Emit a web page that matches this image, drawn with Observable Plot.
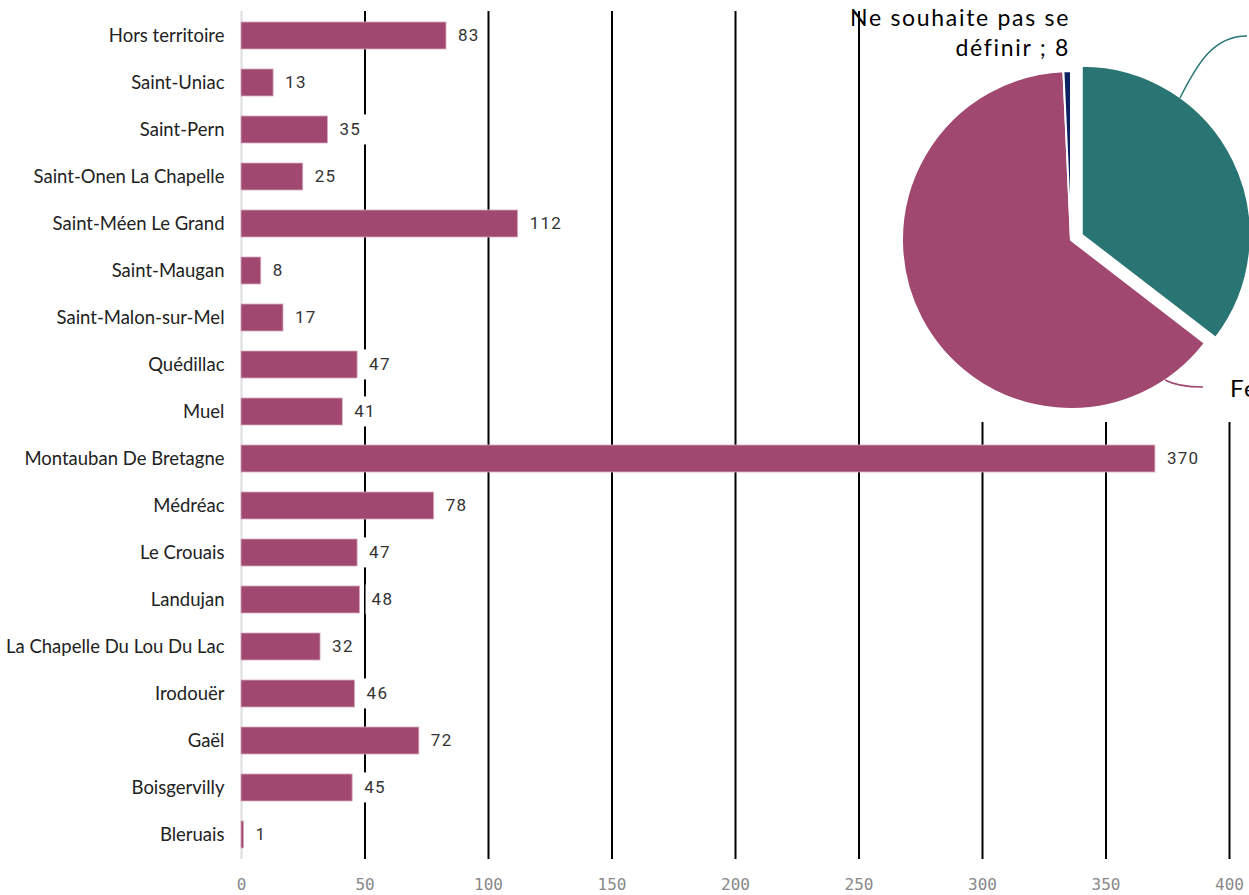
<!DOCTYPE html>
<html>
<head>
<meta charset="utf-8">
<script src="https://cdn.jsdelivr.net/npm/d3@7"></script>
<script src="https://cdn.jsdelivr.net/npm/@observablehq/plot@0.6"></script>
<style>
  html, body { margin: 0; padding: 0; background: white; }
  #chart svg { display: block; }
  #chart g.value-labels text { letter-spacing: 1.3px; }
</style>
</head>
<body>
<div id="chart"></div>
<script>
// ---- Data ----
const communes = ["Hors territoire","Saint-Uniac","Saint-Pern","Saint-Onen La Chapelle","Saint-Méen Le Grand","Saint-Maugan","Saint-Malon-sur-Mel","Quédillac","Muel","Montauban De Bretagne","Médréac","Le Crouais","Landujan","La Chapelle Du Lou Du Lac","Irodouër","Gaël","Boisgervilly","Bleruais"];
const counts = [83,13,35,25,112,8,17,47,41,370,78,47,48,32,46,72,45,1];
const xTicks = [0,50,100,150,200,250,300,350,400];
const genres = ["Homme","Femme","Ne souhaite pas se définir"];
const genreCounts = [397,715,8];
const genreColors = ["#297573","#A04870","#0B2160"];

const barData = communes.map((c, i) => ({commune: c, n: counts[i]}));
const genreData = genres.map((g, i) => ({genre: g, n: genreCounts[i], color: genreColors[i]}));

// ---- Pie inset (custom render mark) ----
function pieMark() {
  const cx = 1071, cy = 240, r = 169, explode = 12;
  const g = d3.create("svg:g");
  g.append("rect").attr("x", 880).attr("y", 0).attr("width", 1249 - 880).attr("height", 422).attr("fill", "white");
  const arcs = d3.pie().sort(null).value(d => d.n)(genreData);
  const arc = d3.arc().innerRadius(0).outerRadius(r);
  arcs.forEach((a, i) => {
    const mid = (a.startAngle + a.endAngle) / 2;
    const off = i === 0 ? explode : 0;
    const tx = cx + Math.sin(mid) * off, ty = cy - Math.cos(mid) * off;
    g.append("path")
      .attr("d", arc(a))
      .attr("transform", `translate(${tx},${ty})`)
      .attr("fill", a.data.color)
      .attr("stroke", "white")
      .attr("stroke-width", 2);
  });
  // leader lines
  g.append("path").attr("d", "M1180,98 C1198,62 1214,36 1247,36")
    .attr("fill", "none").attr("stroke", genreColors[0]).attr("stroke-width", 1.5);
  g.append("path").attr("d", "M1165,380 Q1178,387 1203,387")
    .attr("fill", "none").attr("stroke", genreColors[1]).attr("stroke-width", 1.5);
  // labels
  const lab = (x, y, t, anchor, size, ls) => g.append("text").attr("x", x).attr("y", y)
    .attr("text-anchor", anchor).attr("font-family", "Lato").attr("font-size", size)
    .attr("letter-spacing", ls + "px").attr("fill", "black").text(t);
  lab(1070, 26, "Ne souhaite pas se", "end", 23, 1.7);
  lab(1070, 55.5, "définir ; " + genreCounts[2], "end", 23, 1.7);
  lab(1230, 397, genres[1] + " ; " + genreCounts[1], "start", 24, 1.5);
  lab(1254, 44, genres[0] + " ; " + genreCounts[0], "start", 24, 1.5);
  return g.node();
}

const chart = Plot.plot({
  width: 1249,
  height: 895,
  marginLeft: 241,
  marginRight: 20,
  marginTop: 11,
  marginBottom: 36,
  style: {background: "white", fontFamily: "Lato", fontSize: "18.5px"},
  x: {domain: [0, 400], ticks: xTicks},
  y: {domain: communes, paddingInner: 0.43, paddingOuter: 0.22, label: null},
  marks: [
    Plot.ruleX(xTicks.filter(d => d > 0), {stroke: "black", strokeWidth: 2}),
    Plot.ruleX([0], {stroke: "#dddddd", strokeWidth: 2}),
    pieMark,
    Plot.barX(barData, {x: "n", y: "commune", fill: "#A04870", stroke: "#d8aabf", strokeWidth: 0.8}),
    Plot.text(barData, {x: "n", y: "commune", text: d => String(d.n), dx: 11.5, textAnchor: "start",
      fontFamily: "Roboto", fontSize: 17, fill: "#333",
      render: (index, scales, values, dimensions, context, next) => {
        const g = next(index, scales, values, dimensions, context);
        g.classList.add("value-labels");
        return g;
      }}),
    Plot.axisY({tickSize: 0, tickPadding: 17, fontSize: 18.5, color: "#222", label: null}),
    Plot.axisX({ticks: xTicks, tickSize: 0, tickPadding: 19, fontFamily: "DejaVu Sans Mono", fontSize: 16, color: "#888", label: null})
  ]
});
document.getElementById("chart").appendChild(chart);

// white boxes behind value labels (they interrupt the grid lines, as in the original)
let lblG = chart.querySelector("g.value-labels") || chart.querySelector('g[aria-label="text"]');
if (lblG) {
  lblG.classList.add("value-labels");
  lblG.querySelectorAll("text").forEach(t => {
    const b = t.getBBox();
    const rect = document.createElementNS("http://www.w3.org/2000/svg", "rect");
    rect.setAttribute("x", b.x - 6);
    rect.setAttribute("y", b.y + b.height / 2 - 15);
    rect.setAttribute("width", b.width + 12);
    rect.setAttribute("height", 30);
    rect.setAttribute("fill", "white");
    const tr = t.getAttribute("transform");
    if (tr) rect.setAttribute("transform", tr);
    t.parentNode.insertBefore(rect, t);
  });
}
</script>
</body>
</html>
